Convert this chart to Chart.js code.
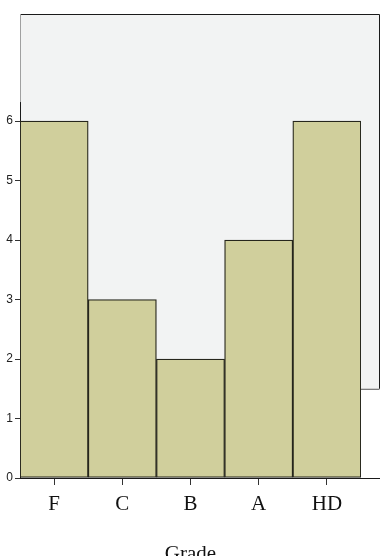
<!DOCTYPE html>
<html>
<head>
<meta charset="utf-8">
<script src="https://cdn.jsdelivr.net/npm/chart.js@4"></script>
<style>
  html, body { margin: 0; padding: 0; background: #fff; }
  body { width: 384px; height: 556px; overflow: hidden; }
  #wrap { width: 384px; height: 571px; position: relative; }
</style>
</head>
<body>
<div id="wrap"><canvas id="gradeChart"></canvas></div>
<script>
// Histogramm data
const grades = ['F', 'C', 'B', 'A', 'HD'];
const counts = [6, 3, 2, 4, 6];
const yTicks = [0, 1, 2, 3, 4, 5, 6];

// grijs paneel + assen zoals in de SPSS uitvoer
const panelPlugin = {
    id: 'panelPlugin',
    beforeDatasetsDraw(chart) {
        const { ctx, chartArea: { top, bottom, left }, scales: { y } } = chart;
        const right = 379;
        const panelBottom = y.getPixelForValue(1.5);
        ctx.save();
        ctx.fillStyle = '#f2f3f3';
        ctx.fillRect(left, top, right - left, panelBottom - top);
        ctx.lineWidth = 1;
        ctx.strokeStyle = '#1a1a1a';
        ctx.beginPath();
        ctx.moveTo(left, top + 0.5);
        ctx.lineTo(right + 0.5, top + 0.5);
        ctx.lineTo(right + 0.5, panelBottom);
        ctx.stroke();
        ctx.strokeStyle = '#555';
        ctx.beginPath();
        ctx.moveTo(361, panelBottom + 0.5);
        ctx.lineTo(right + 0.5, panelBottom + 0.5);
        ctx.stroke();
        // linker rand: licht boven, donker onder
        const split = y.getPixelForValue(6.32);
        ctx.strokeStyle = '#a0a0a0';
        ctx.beginPath();
        ctx.moveTo(left + 0.5, top);
        ctx.lineTo(left + 0.5, split);
        ctx.stroke();
        ctx.strokeStyle = '#1a1a1a';
        ctx.beginPath();
        ctx.moveTo(left + 0.5, split);
        ctx.lineTo(left + 0.5, bottom);
        ctx.stroke();
        ctx.restore();
    },
    afterDatasetsDraw(chart) {
        const { ctx, chartArea: { bottom, left } } = chart;
        ctx.save();
        ctx.strokeStyle = '#1a1a1a';
        ctx.lineWidth = 1;
        ctx.beginPath();
        ctx.moveTo(left, bottom + 0.5);
        ctx.lineTo(380, bottom + 0.5);
        ctx.stroke();
        ctx.restore();
    }
};

new Chart(document.getElementById('gradeChart'), {
    type: 'bar',
    data: {
        labels: grades,
        datasets: [{
            data: counts,
            backgroundColor: '#d0cf9c',
            borderColor: '#26261c',
            borderWidth: 1.3,
            borderSkipped: false,
            categoryPercentage: 1,
            barPercentage: 1
        }]
    },
    options: {
        responsive: true,
        maintainAspectRatio: false,
        animation: false,
        layout: { padding: { top: 14, right: 23, left: 0, bottom: 0 } },
        plugins: { legend: { display: false }, tooltip: { enabled: false } },
        scales: {
            x: {
                grid: { drawOnChartArea: false, tickLength: 7, color: '#333', offset: false },
                border: { display: false },
                afterFit(scale) { scale.height = 93; },
                ticks: {
                    padding: 7,
                    color: '#111',
                    font: { family: 'Liberation Serif', size: 21 }
                },
                title: {
                    display: true,
                    text: 'Grade',
                    color: '#111',
                    font: { family: 'Liberation Serif', size: 21 }
                }
            },
            y: {
                min: 0,
                max: 7.8,
                afterBuildTicks(scale) { scale.ticks = yTicks.map(v => ({ value: v })); },
                afterFit(scale) { scale.width = 20; },
                grid: { drawOnChartArea: false, tickLength: 5, color: '#333' },
                border: { display: false },
                ticks: {
                    padding: 2,
                    color: '#222',
                    font: { family: 'Liberation Sans', size: 12 }
                }
            }
        }
    },
    plugins: [panelPlugin]
});
</script>
</body>
</html>
